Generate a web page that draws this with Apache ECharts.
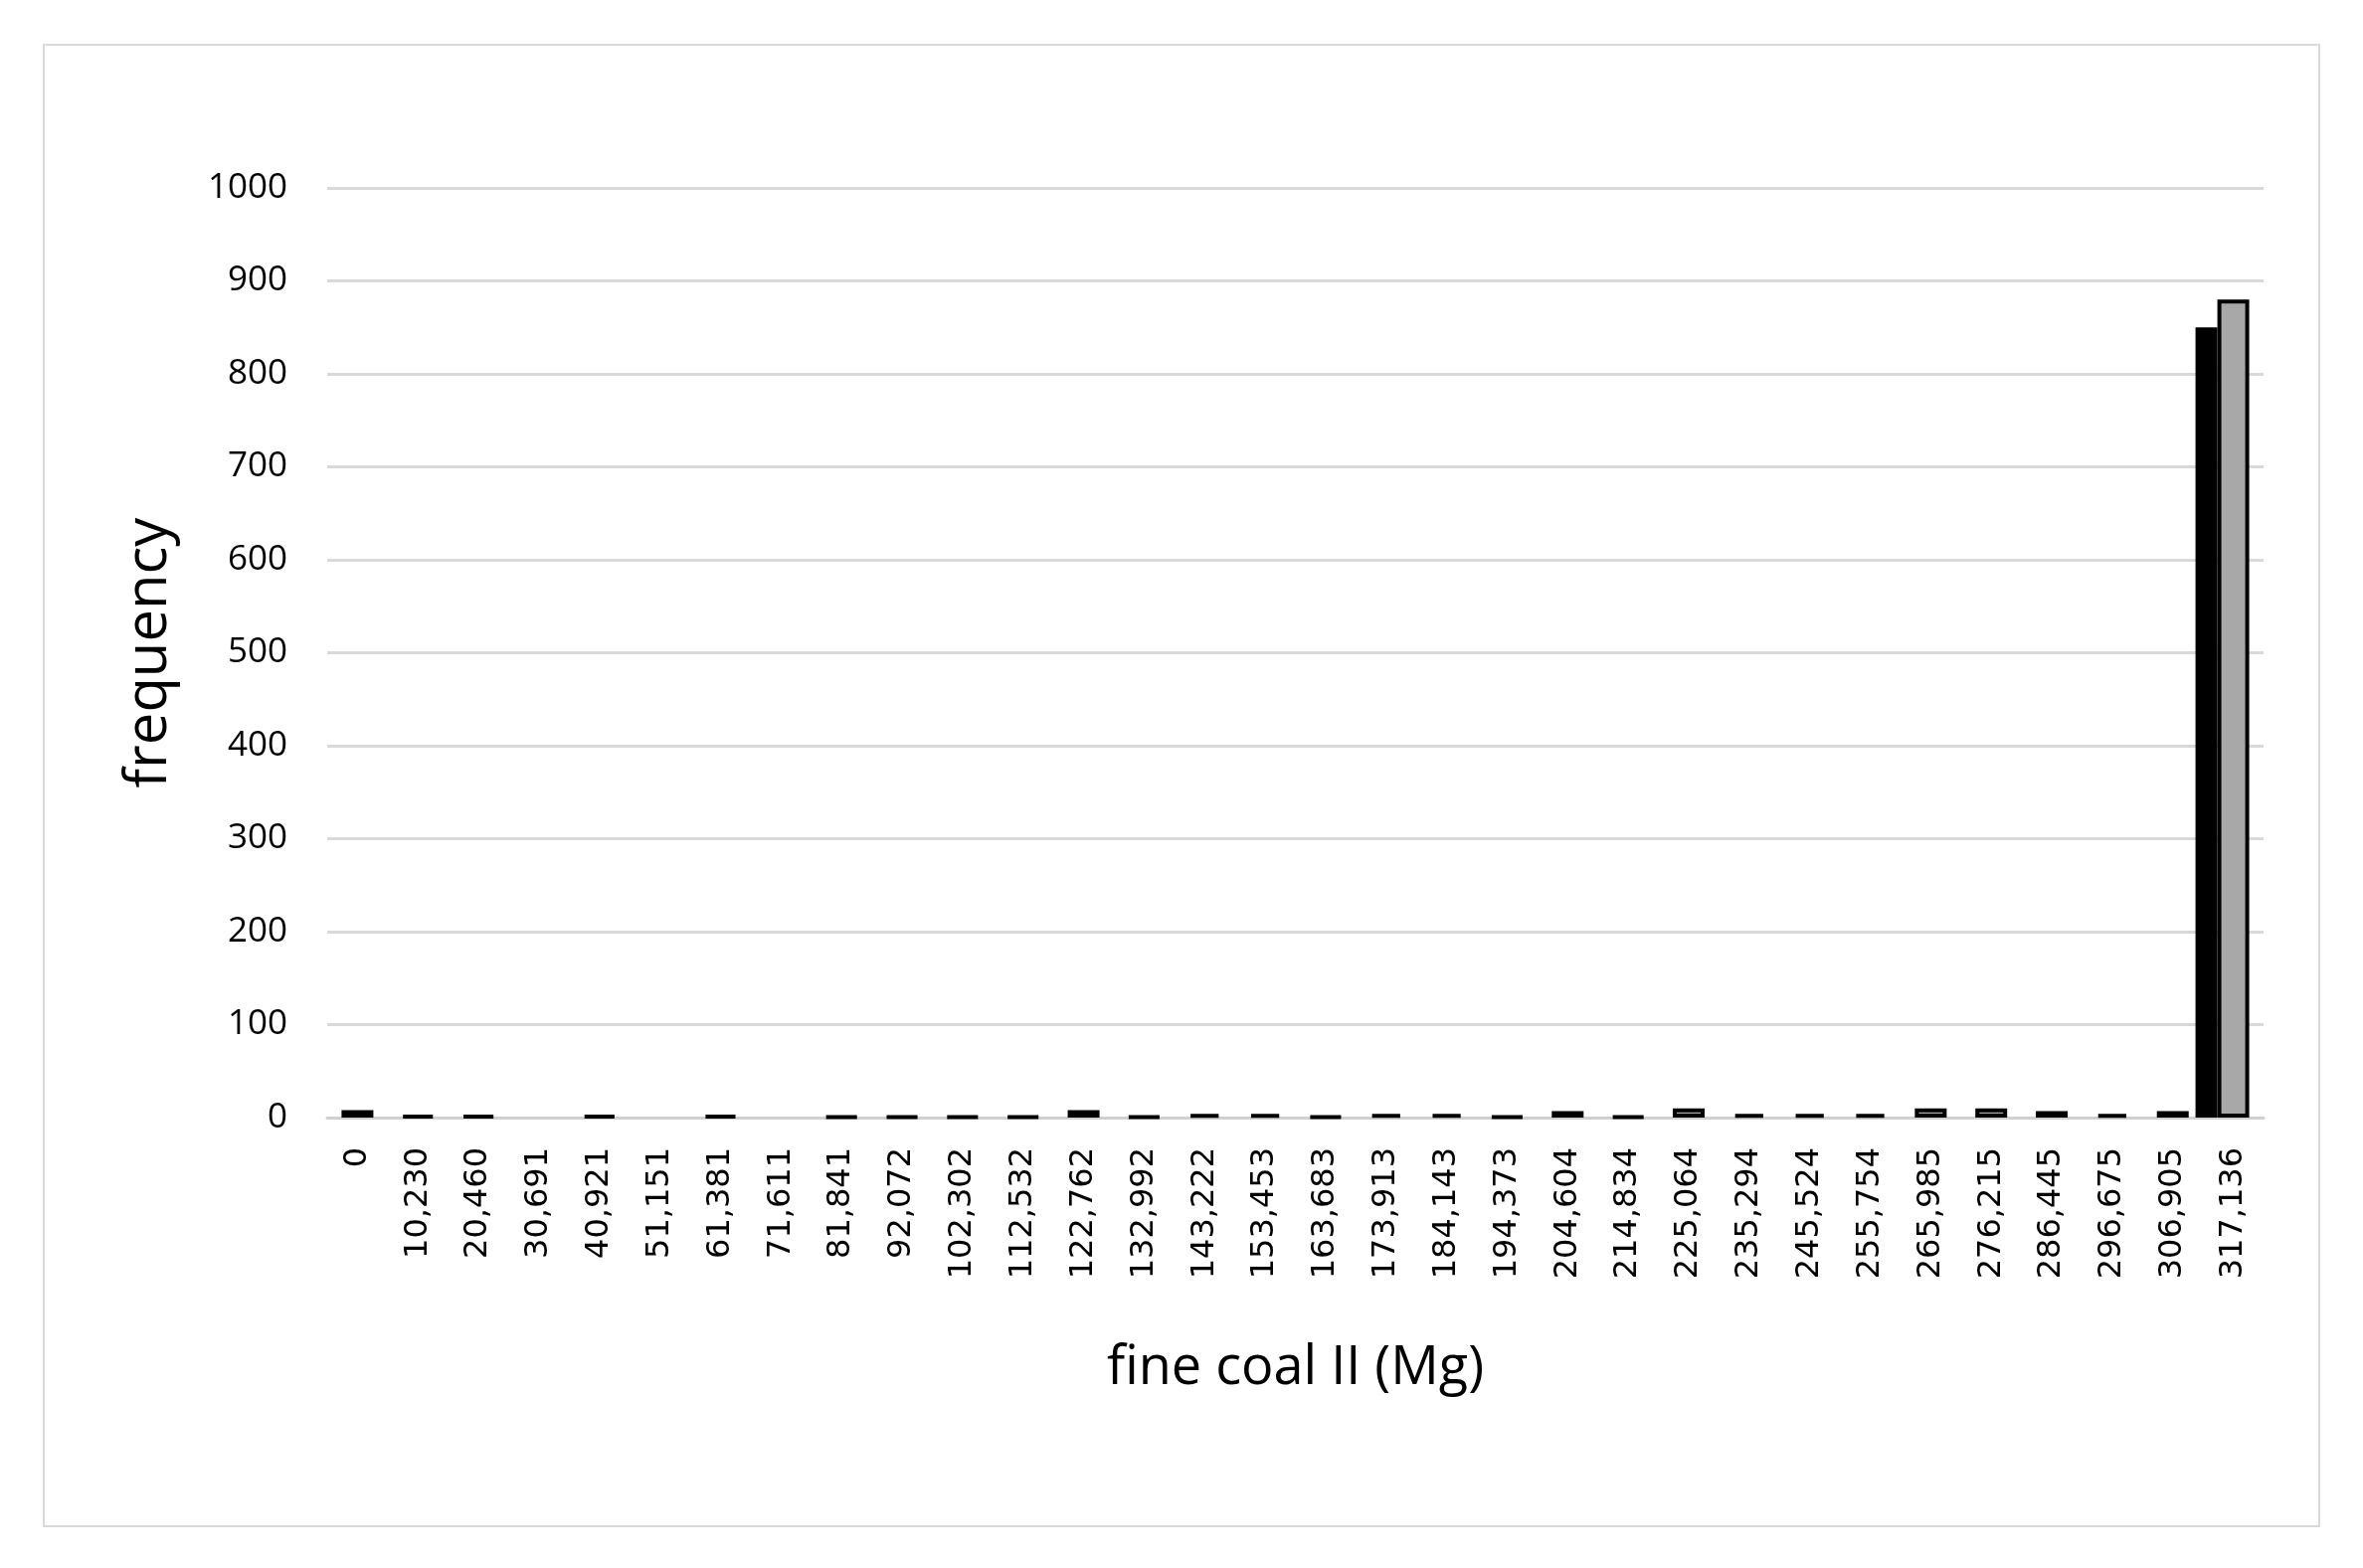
<!DOCTYPE html>
<html>
<head>
<meta charset="utf-8">
<script src="https://cdn.jsdelivr.net/npm/echarts@6/dist/echarts.min.js"></script>
<style>
  html, body { margin: 0; padding: 0; background: #fff; }
  #chart { width: 2376px; height: 1577px; }
</style>
</head>
<body>
<div id="chart"></div>
<script>
// bins of fine coal II (Mg)
var categories = ['0', '10,230', '20,460', '30,691', '40,921', '51,151', '61,381', '71,611',
    '81,841', '92,072', '102,302', '112,532', '122,762', '132,992', '143,222', '153,453',
    '163,683', '173,913', '184,143', '194,373', '204,604', '214,834', '225,064', '235,294',
    '245,524', '255,754', '265,985', '276,215', '286,445', '296,675', '306,905', '317,136'];
// black series (only the last bin has a count)
var blackValues = [0, 0, 0, 0, 0, 0, 0, 0, 0, 0, 0, 0, 0, 0, 0, 0,
    0, 0, 0, 0, 0, 0, 0, 0, 0, 0, 0, 0, 0, 0, 0, 850];
// grey series
var greyValues = [8, 2, 2, 0, 2, 0, 2, 0, 1, 1, 1, 1, 8, 1, 4, 4,
    1, 4, 4, 1, 7, 1, 10, 4, 4, 4, 10, 10, 7, 4, 7, 880];
var yTicks = [0, 100, 200, 300, 400, 500, 600, 700, 800, 900, 1000];

var myChart = echarts.init(document.getElementById('chart'));

function noZero(arr) {
    var out = [];
    for (var i = 0; i < arr.length; i++) {
        out.push(arr[i] === 0 ? '-' : arr[i]);
    }
    return out;
}

var option = {
    animation: false,
    backgroundColor: '#fff',
    textStyle: { fontFamily: 'Open Sans' },
    graphic: [{
        type: 'rect',
        shape: { x: 44, y: 45, width: 2288, height: 1490 },
        style: { fill: 'none', stroke: '#d9d9d9', lineWidth: 2 },
        silent: true
    }],
    grid: { left: 329, right: 100, top: 189, bottom: 453 },
    xAxis: {
        type: 'category',
        data: categories,
        name: 'fine coal II (Mg)',
        nameLocation: 'middle',
        nameGap: 226,
        nameTextStyle: { fontSize: 54, color: '#000', fontFamily: 'Open Sans' },
        axisLine: { lineStyle: { color: '#d0d0d0', width: 3 } },
        axisTick: { show: false },
        axisLabel: {
            rotate: 90,
            interval: 0,
            margin: 30,
            fontSize: 32,
            color: '#000',
            fontFamily: 'DejaVu Sans'
        }
    },
    yAxis: {
        type: 'value',
        min: yTicks[0],
        max: yTicks[yTicks.length - 1],
        interval: 100,
        name: 'frequency',
        nameLocation: 'middle',
        nameGap: 150,
        nameTextStyle: { fontSize: 58, color: '#000', fontFamily: 'Open Sans' },
        axisLine: { show: false },
        axisTick: { show: false },
        axisLabel: {
            margin: 40,
            fontSize: 35,
            color: '#000',
            fontFamily: 'Open Sans',
            formatter: function (v) { return String(v); }
        },
        splitLine: { lineStyle: { color: '#d9d9d9', width: 3 } }
    },
    series: [
        {
            name: 'black',
            type: 'bar',
            data: noZero(blackValues),
            barWidth: 22,
            barGap: '0%',
            itemStyle: { color: '#000' }
        },
        {
            name: 'grey',
            type: 'bar',
            data: noZero(greyValues),
            barWidth: 32,
            itemStyle: { color: '#a8a8a8', borderColor: '#000', borderWidth: 4 }
        },
        {
            // empty spacer keeps the grey bars centred on the category
            name: 'spacer',
            type: 'bar',
            data: [],
            barWidth: 22
        }
    ]
};
myChart.setOption(option);
</script>
</body>
</html>
